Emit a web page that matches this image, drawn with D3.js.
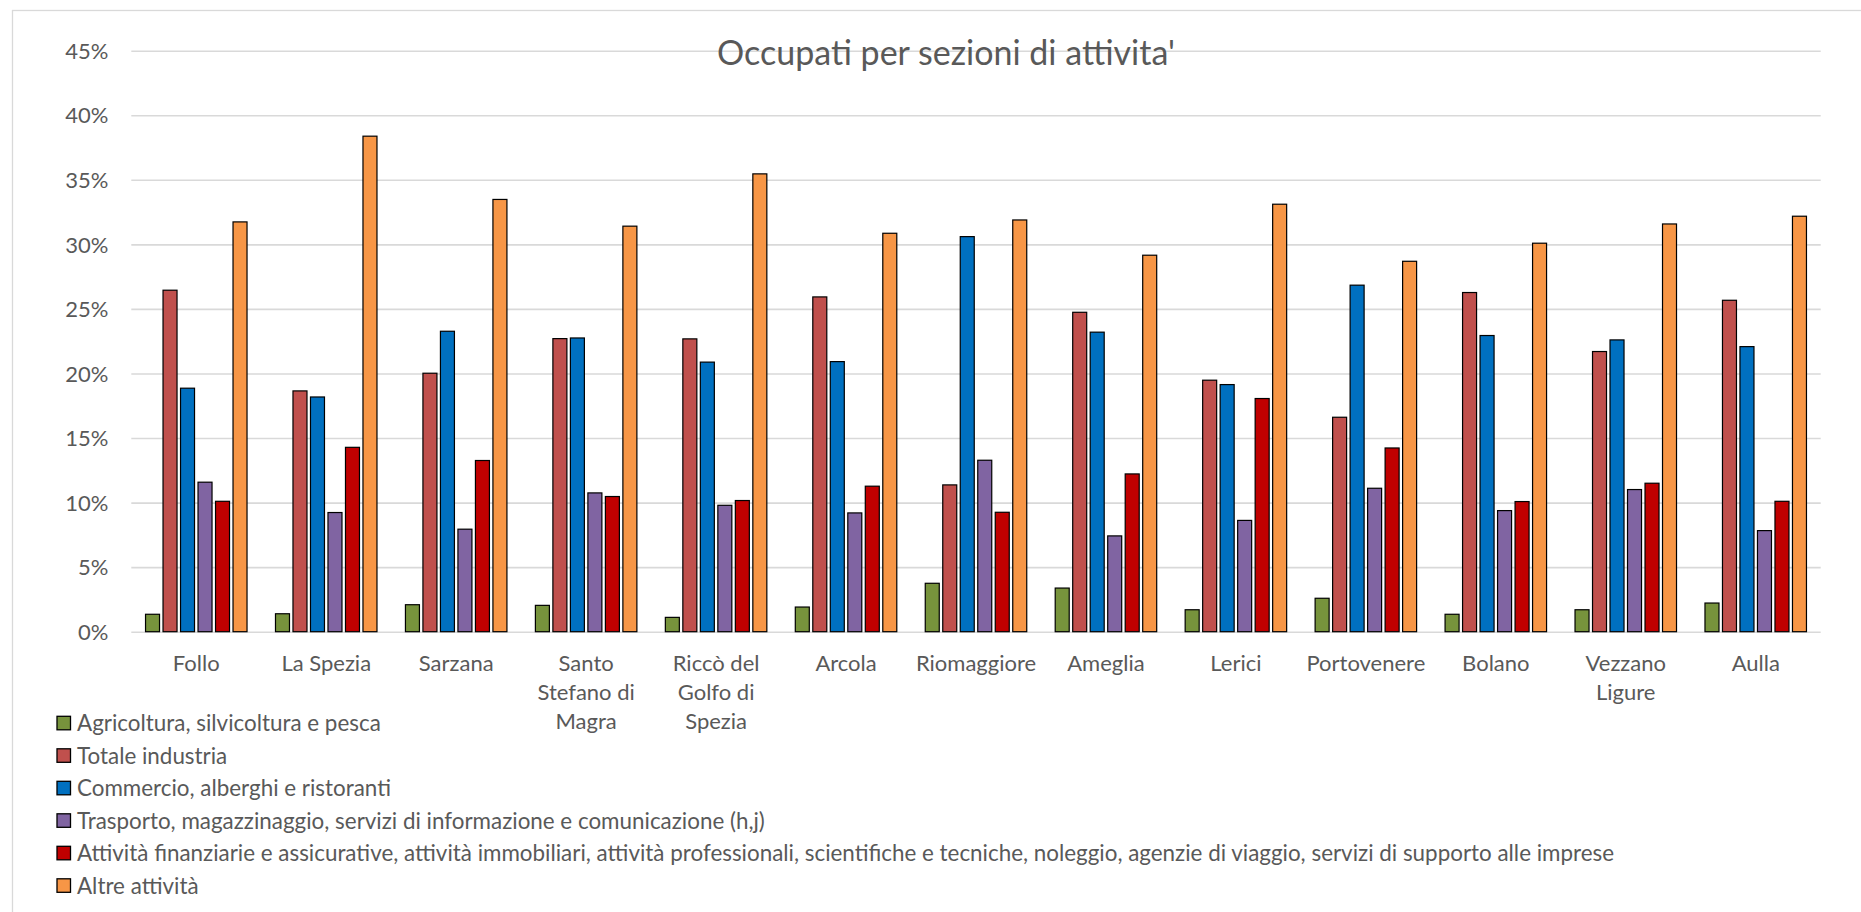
<!DOCTYPE html>
<html>
<head>
<meta charset="utf-8">
<script src="https://cdn.jsdelivr.net/npm/d3@7"></script>
<style>
  body { margin: 0; background: #fff; }
  #occupati-chart svg { display: block; font-family: Lato, "Open Sans", sans-serif; }
  .tick-label, .cat-label { fill: #595959; font-size: 22px; }
  .legend-label { fill: #595959; font-size: 22.4px; }
  .chart-title { fill: #595959; font-size: 34px; }
</style>
</head>
<body>
<div id="occupati-chart"></div>
<script>
// ========== Data ==========
const categories = [
  "Follo", "La Spezia", "Sarzana", "Santo Stefano di Magra", "Riccò del Golfo di Spezia",
  "Arcola", "Riomaggiore", "Ameglia", "Lerici", "Portovenere", "Bolano", "Vezzano Ligure", "Aulla",
];

// category labels as they wrap under the axis
const tickLabels = [
  ["Follo"], ["La Spezia"], ["Sarzana"], ["Santo", "Stefano di", "Magra"], ["Riccò del", "Golfo di", "Spezia"],
  ["Arcola"], ["Riomaggiore"], ["Ameglia"], ["Lerici"], ["Portovenere"], ["Bolano"], ["Vezzano", "Ligure"], ["Aulla"],
];

const seriesNames = [
  "Agricoltura, silvicoltura e pesca",
  "Totale industria",
  "Commercio, alberghi e ristoranti",
  "Trasporto, magazzinaggio, servizi di informazione e comunicazione (h,j)",
  "Attività finanziarie e assicurative, attività immobiliari, attività professionali, scientifiche e tecniche, noleggio, agenzie di viaggio, servizi di supporto alle imprese",
  "Altre attività",
];

// values in % (one per category, same order as categories)
const agricoltura = [1.35, 1.39, 2.09, 2.04, 1.11, 1.91, 3.75, 3.38, 1.70, 2.59, 1.35, 1.70, 2.22];
const industria = [26.45, 18.65, 20.02, 22.7, 22.68, 25.93, 11.37, 24.74, 19.48, 16.61, 26.27, 21.7, 25.67];
const commercio = [18.86, 18.18, 23.27, 22.75, 20.88, 20.92, 30.6, 23.2, 19.14, 26.84, 22.94, 22.6, 22.08];
const trasporto = [11.58, 9.23, 7.94, 10.75, 9.79, 9.2, 13.28, 7.42, 8.62, 11.11, 9.38, 11.01, 7.83];
const finanza = [10.1, 14.28, 13.26, 10.47, 10.16, 11.27, 9.25, 12.22, 18.06, 14.23, 10.08, 11.5, 10.1];
const altre = [31.74, 38.38, 33.48, 31.41, 35.46, 30.86, 31.89, 29.16, 33.11, 28.69, 30.09, 31.58, 32.18];

const seriesValues = [agricoltura, industria, commercio, trasporto, finanza, altre];

const yTicks = [0, 5, 10, 15, 20, 25, 30, 35, 40, 45];

const seriesColors = ["#77933C", "#C0504D", "#0070C0", "#8064A2", "#C00000", "#F79646"];

// ========== Entry Point ==========
document.addEventListener("DOMContentLoaded", () => {
  renderChart(buildRows());
});

// ========== Structure Data ==========
function buildRows() {
  return categories.map((cat, i) => ({
    category: cat,
    lines: tickLabels[i],
    values: seriesNames.map((name, s) => ({ key: name, value: seriesValues[s][i] })),
  }));
}

// ========== Render ==========
function renderChart(rows) {
  const width = 1861;
  const height = 912;
  const margin = { top: 50.7, right: 40.3, bottom: 280.3, left: 131.3 };

  const svg = d3
    .select("#occupati-chart")
    .append("svg")
    .attr("width", width)
    .attr("height", height);

  // chart frame (only top and left edges fall inside the picture)
  svg
    .append("rect")
    .attr("x", 12.5)
    .attr("y", 10.5)
    .attr("width", width + 20)
    .attr("height", height + 20)
    .attr("fill", "#fff")
    .attr("stroke", "#D9D9D9")
    .attr("stroke-width", 1.3);

  const x0 = d3
    .scaleBand()
    .domain(categories)
    .range([margin.left, width - margin.right])
    .paddingInner(0.219)
    .paddingOuter(0.1095);

  const x1 = d3
    .scaleBand()
    .domain(seriesNames)
    .range([0, x0.bandwidth()])
    .paddingInner(0.2);

  const y = d3
    .scaleLinear()
    .domain([0, 45])
    .range([height - margin.bottom, margin.top]);

  const color = d3.scaleOrdinal().domain(seriesNames).range(seriesColors);

  // Gridlines + y labels
  const yAxis = svg
    .append("g")
    .attr("transform", `translate(${margin.left},0)`)
    .call(
      d3
        .axisLeft(y)
        .tickValues(yTicks)
        .tickSize(-(width - margin.left - margin.right))
        .tickPadding(23)
        .tickFormat((d) => d + "%")
    );
  yAxis.select(".domain").remove();
  yAxis.selectAll(".tick line").attr("stroke", "#D9D9D9").attr("stroke-width", 1.6);
  yAxis
    .selectAll(".tick text")
    .attr("class", "tick-label")
    .attr("dy", "0.35em");
  yAxis.attr("font-size", null).attr("font-family", null);

  // Bars
  const groups = svg
    .append("g")
    .selectAll("g")
    .data(rows)
    .join("g")
    .attr("transform", (d) => `translate(${x0(d.category)},0)`);

  groups
    .selectAll("rect")
    .data((d) => d.values)
    .join("rect")
    .attr("x", (d) => x1(d.key))
    .attr("y", (d) => y(d.value))
    .attr("width", x1.bandwidth())
    .attr("height", (d) => y(0) - y(d.value))
    .attr("fill", (d) => color(d.key))
    .attr("stroke", "#000")
    .attr("stroke-width", 1.2);

  // Category labels
  const catLabels = svg
    .append("g")
    .selectAll("text")
    .data(rows)
    .join("text")
    .attr("class", "cat-label")
    .attr("text-anchor", "middle")
    .attr("transform", (d) => `translate(${x0(d.category) + x0.bandwidth() / 2},663)`);

  catLabels
    .selectAll("tspan")
    .data((d) => d.lines)
    .join("tspan")
    .attr("x", 0)
    .attr("y", (d, i) => i * 29.3)
    .attr("dy", "0.35em")
    .text((d) => d);

  // Title
  svg
    .append("text")
    .attr("class", "chart-title")
    .attr("x", 946)
    .attr("y", 65)
    .attr("text-anchor", "middle")
    .text("Occupati per sezioni di attivita'");

  // Legend
  const legend = svg
    .append("g")
    .selectAll("g")
    .data(seriesNames)
    .join("g")
    .attr("transform", (d, i) => `translate(57,${723.3 + i * 32.5})`);

  legend
    .append("rect")
    .attr("x", 0)
    .attr("y", -7)
    .attr("width", 13.5)
    .attr("height", 13.5)
    .attr("fill", (d) => color(d))
    .attr("stroke", "#000")
    .attr("stroke-width", 1.3);

  legend
    .append("text")
    .attr("class", "legend-label")
    .attr("x", 20)
    .attr("y", 0)
    .attr("dy", "0.35em")
    .text((d) => d);
}
</script>
</body>
</html>
